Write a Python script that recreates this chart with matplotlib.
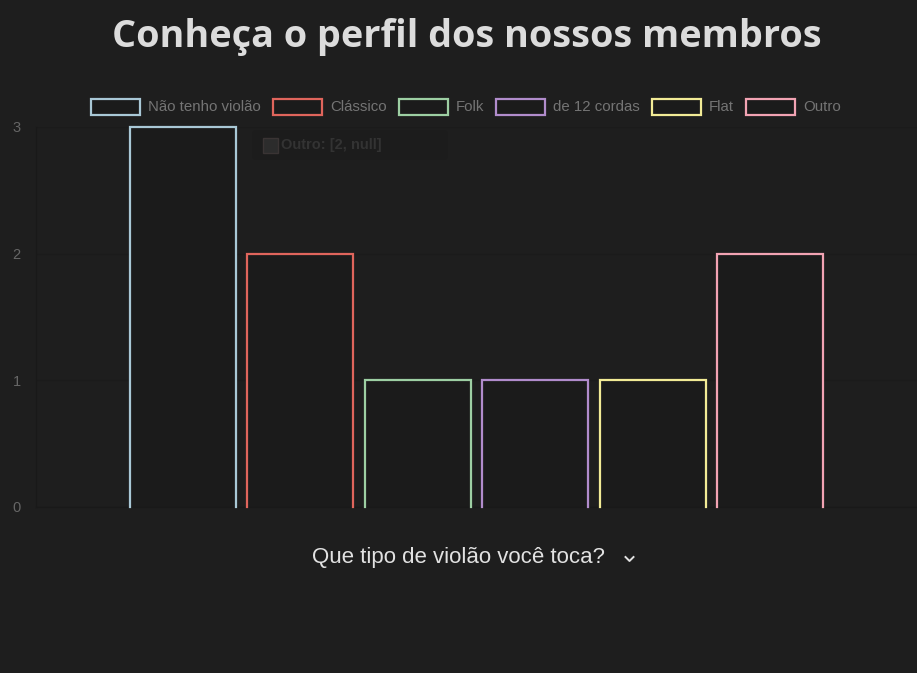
#!/usr/bin/env python3

"""Bar chart of guitar types played by members (dark theme)."""

import matplotlib

matplotlib.use("Agg")
import matplotlib.pyplot as plt
from matplotlib.patches import Rectangle, FancyBboxPatch
from matplotlib.lines import Line2D

# Data
categories = ["Não tenho violão", "Clássico", "Folk", "de 12 cordas", "Flat", "Outro"]
counts = [3, 2, 1, 1, 1, 2]
colors = ["#a9c8d6", "#e0655c", "#9dcfa3", "#b18ccc", "#f2eb96", "#f2a3b3"]
yticks = [0, 1, 2, 3]

title = "Conheça o perfil dos nossos membros"
question = "Que tipo de violão você toca?"
tooltip = "Outro: [2, null]"

BG = "#1e1e1e"
W, H = 917, 673
DPI = 100

fig = plt.figure(figsize=(W / DPI, H / DPI), dpi=DPI, facecolor=BG)


def px(x, y):
    """Pixel (from top-left) to figure fraction."""
    return x / W, 1 - y / H


# Plot area
left, top = px(36, 127)
right, bottom = px(917, 507)
ax = fig.add_axes([left, bottom, right - left, top - bottom], facecolor=BG)

n = len(categories)
cat_pct, bar_pct = 0.8, 0.9
slot = cat_pct / n
offsets = [(i - (n - 1) / 2) * slot for i in range(n)]
bars = ax.bar(offsets, counts, width=slot * bar_pct, color="#1b1b1b", linewidth=0, zorder=2)

# outline without the bottom edge (like chart.js borderSkipped)
for b, c in zip(bars, colors):
    x0, w, h = b.get_x(), b.get_width(), b.get_height()
    ax.plot([x0, x0, x0 + w, x0 + w], [0, h, h, 0], color=c, lw=1.6,
            solid_joinstyle="miter", zorder=3, clip_on=False)

ax.set_xlim(-0.5, 0.5)
ax.set_ylim(0, 3)
ax.set_yticks(yticks)
ax.set_yticklabels([str(t) for t in yticks], color="#666666", fontsize=10.5,
                   family="Liberation Sans")
ax.set_xticks([])
ax.tick_params(axis="y", length=0, pad=11)
ax.grid(axis="y", color="#1b1b1b", lw=1)
ax.set_axisbelow(True)
for s in ["top", "right"]:
    ax.spines[s].set_visible(False)
for s in ["left", "bottom"]:
    ax.spines[s].set_color("#191919")
    ax.spines[s].set_linewidth(1)

# Title
tx, ty = px(467, 37)
fig.text(tx, ty, title, ha="center", va="center", fontsize=27.2, fontweight="bold",
         color="#dcdcdc", family="Open Sans")

# Legend row (manual, centered)
fig.canvas.draw()
renderer = fig.canvas.get_renderer()
box_w, box_h, gap_txt, gap_item = 49, 15, 8, 12
leg_texts = []
widths = []
for name in categories:
    t = fig.text(0, 0, name, fontsize=10.8, color="#747474", family="Liberation Sans",
                 va="center", ha="left")
    leg_texts.append(t)
    widths.append(t.get_window_extent(renderer).width)
total = sum(box_w + gap_txt + w for w in widths) + gap_item * (n - 1)
x = 466 - total / 2
ly = 107
for t, w, c in zip(leg_texts, widths, colors):
    fx, fy = px(x, ly + box_h / 2)
    fig.patches.append(Rectangle((fx, fy), box_w / W, box_h / H, transform=fig.transFigure,
                                 facecolor="#1b1b1b", edgecolor=c, lw=1.6))
    t.set_position(px(x + box_w + gap_txt, ly))
    x += box_w + gap_txt + w + gap_item

# Faint tooltip ghost
bx, by = px(252, 160)
fig.patches.append(FancyBboxPatch((bx, by), 196 / W, 30 / H, transform=fig.transFigure,
                                  boxstyle="round,pad=0,rounding_size=0.006",
                                  facecolor="#1c1c1c", edgecolor="none", zorder=5))
sx, sy = px(263, 153)
fig.patches.append(Rectangle((sx, sy), 15 / W, 15 / H, transform=fig.transFigure,
                             facecolor="#2c2c2c", edgecolor="#3a3434", lw=1, zorder=6))
ttx, tty = px(281, 145)
fig.text(ttx, tty, tooltip, fontsize=10.5, fontweight="bold", color="#333333",
         family="Liberation Sans", va="center", ha="left", zorder=6)

# Dropdown question
qx, qy = px(458, 557)
q = fig.text(qx, qy, question, fontsize=16, color="#e2e2e2", family="Liberation Sans",
             ha="center", va="center")
fig.canvas.draw()
ext = q.get_window_extent(renderer)
cx = ext.x1 + 25
cy = ext.y0 + ext.height / 2 - 2
fig.lines.append(Line2D([(cx - 4) / W, cx / W, (cx + 4) / W],
                        [(cy + 2) / H, (cy - 2) / H, (cy + 2) / H],
                        transform=fig.transFigure, color="#e2e2e2", lw=1.4))

fig.savefig("out.png", dpi=DPI, facecolor=BG)
